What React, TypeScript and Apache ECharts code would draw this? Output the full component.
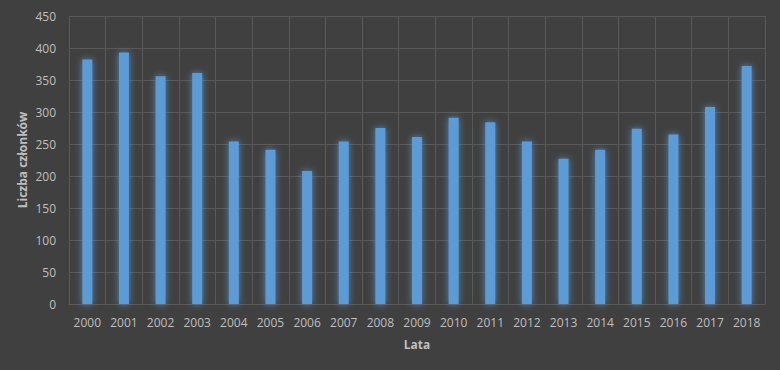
import React, { useEffect, useRef } from "react";
import * as echarts from "echarts";

const years = ["2000","2001","2002","2003","2004","2005","2006","2007","2008","2009","2010","2011","2012","2013","2014","2015","2016","2017","2018"];
const members = [382, 393, 356, 361, 254, 241, 208, 254, 275, 261, 291, 284, 254, 227, 241, 274, 265, 308, 372];
const yTitle = "Liczba członków";
const xTitle = "Lata";

export default function App() {
  const ref = useRef<HTMLDivElement>(null);
  useEffect(() => {
    document.body.style.margin = "0";
    const chart = echarts.init(ref.current!, null, { renderer: "svg" });
    const font = "'Open Sans', 'Liberation Sans', sans-serif";
    chart.setOption({
      animation: false,
      backgroundColor: "#404040",
      textStyle: { fontFamily: font },
      grid: { left: 69, right: 15, top: 16, bottom: 66 },
      xAxis: {
        type: "category",
        data: years,
        name: xTitle,
        nameLocation: "middle",
        nameGap: 34,
        nameTextStyle: { color: "#bfbfbf", fontSize: 12, fontWeight: "bold", fontFamily: font },
        axisLine: { show: true, lineStyle: { color: "#595959", width: 1 } },
        axisTick: { show: false },
        axisLabel: { color: "#bfbfbf", fontSize: 12, margin: 12, fontFamily: font },
        splitLine: { show: true, lineStyle: { color: "#595959", width: 1 } },
      },
      yAxis: {
        type: "value",
        min: 0,
        max: 450,
        interval: 50,
        name: yTitle,
        nameLocation: "middle",
        nameGap: 41,
        nameMoveOverlap: false,
        nameRotate: 90,
        nameTextStyle: { color: "#bfbfbf", fontSize: 12, fontWeight: "bold", fontFamily: font },
        axisLine: { show: false },
        axisTick: { show: false },
        axisLabel: { color: "#bfbfbf", fontSize: 12, margin: 13, fontFamily: font },
        splitLine: { show: true, lineStyle: { color: "#595959", width: 1 } },
      },
      series: [
        {
          type: "bar",
          data: members,
          barWidth: 10,
          itemStyle: {
            color: "#5b9bd5",
            shadowBlur: 7,
            shadowColor: "rgba(91,155,213,0.8)",
          },
        },
      ],
    });
    return () => chart.dispose();
  }, []);
  return <div ref={ref} style={{ width: 780, height: 370 }} />;
}
